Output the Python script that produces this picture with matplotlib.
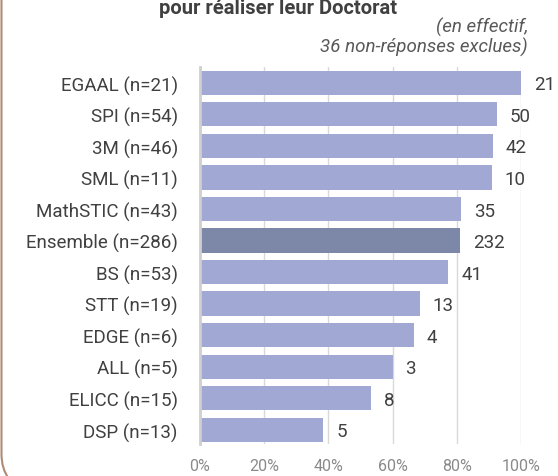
import matplotlib.pyplot as plt
from matplotlib.path import Path
from matplotlib.patches import PathPatch

plt.rcParams['font.family'] = ['Roboto', 'DejaVu Sans']

# Données
ecoles = ['EGAAL', 'SPI', '3M', 'SML', 'MathSTIC', 'Ensemble',
          'BS', 'STT', 'EDGE', 'ALL', 'ELICC', 'DSP']
n_total = [21, 54, 46, 11, 43, 286, 53, 19, 6, 5, 15, 13]
effectifs = [21, 50, 42, 10, 35, 232, 41, 13, 4, 3, 8, 5]
ticks_pct = [0, 20, 40, 60, 80, 100]

labels = [f'{e} (n={n})' for e, n in zip(ecoles, n_total)]
parts = [100 * c / n for c, n in zip(effectifs, n_total)]
couleurs = ['#7d87a8' if e == 'Ensemble' else '#a0a8d3' for e in ecoles]

fig = plt.figure(figsize=(5.58, 4.77), dpi=100)
W, H = 558, 477
ax = fig.add_axes([200 / W, (H - 445) / H, 321 / W, (445 - 68) / H])

y = list(range(len(ecoles)))
ax.barh(y, parts, height=0.77, color=couleurs, zorder=3)

for yi, p, c in zip(y, parts, effectifs):
    ax.text(p + 4, yi + 0.05, str(c), va='center', ha='left',
            fontsize=13.5, color='#404040')

ax.set_xlim(0, 100)
ax.set_ylim(11.45, -0.5)
ax.set_yticks(y)
ax.set_yticklabels(labels, fontsize=13.5, color='#404040')
ax.set_xticks(ticks_pct)
ax.set_xticklabels([f'{t}%' for t in ticks_pct], fontsize=11.5,
                   color='#8a8a8a')
ax.tick_params(axis='y', length=0, pad=16)
ax.tick_params(axis='x', length=0, pad=10)

ax.grid(axis='x', color='#d9d9d9', linewidth=1, zorder=0)
for s in ['top', 'right', 'bottom']:
    ax.spines[s].set_visible(False)
ax.spines['left'].set_color('#cfcfcf')
ax.spines['left'].set_linewidth(2)
ax.spines['left'].set_zorder(4)

# Titre et sous-titre
fig.text(278 / W, 1 - 9 / H, 'pour réaliser leur Doctorat', ha='center',
         va='center', fontsize=14.5, fontweight='bold', color='#404040')
fig.text(528 / W, 1 - 27 / H, '(en effectif,', ha='right', va='center',
         fontsize=13.5, style='italic', color='#595959')
fig.text(528 / W, 1 - 47 / H, '36 non-réponses exclues)', ha='right',
         va='center', fontsize=13.5, style='italic', color='#595959')

# Bordure gauche arrondie
verts = [(1.5, H + 2), (1.5, H - 455), (1.5, H - 470), (9, H - 480)]
codes = [Path.MOVETO, Path.LINETO, Path.CURVE3, Path.CURVE3]
bord = [(vx / W, vy / H) for vx, vy in verts]
fig.patches.append(PathPatch(Path(bord, codes), transform=fig.transFigure,
                             fill=False, edgecolor='#b08a74', linewidth=1.5))

fig.savefig('out.png', dpi=100)
